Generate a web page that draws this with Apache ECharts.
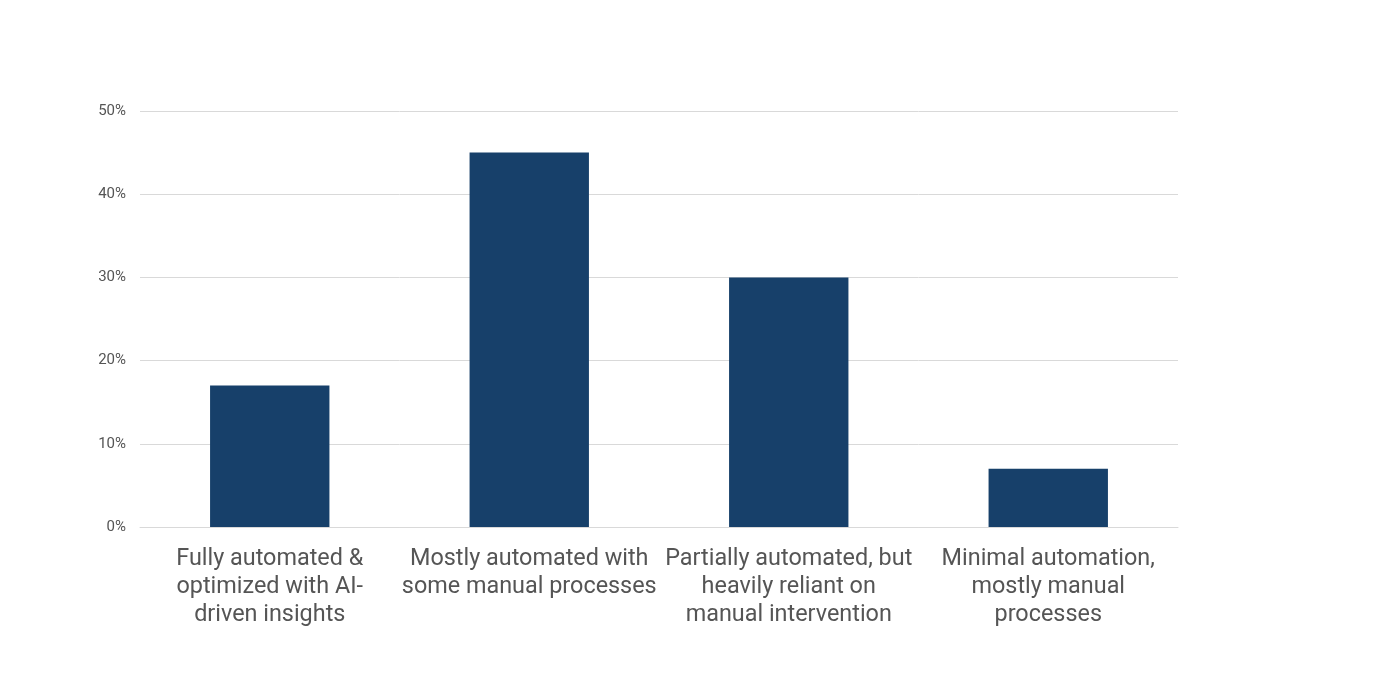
<!DOCTYPE html>
<html>
<head>
<meta charset="utf-8">
<script src="https://cdn.jsdelivr.net/npm/echarts@6/dist/echarts.min.js"></script>
<style>
  html, body { margin: 0; padding: 0; background: #fff; }
  #chart { width: 1379px; height: 674px; }
</style>
</head>
<body>
<div id="chart"></div>
<script>
const categories = [
    'Fully automated &\noptimized with AI-\ndriven insights',
    'Mostly automated with\nsome manual processes',
    'Partially automated, but\nheavily reliant on\nmanual intervention',
    'Minimal automation,\nmostly manual\nprocesses'
]
const shares = [17, 45, 30, 7]

const chart = echarts.init(document.getElementById('chart'))
const option = {
    animation: false,
    grid: {
        top: 111,
        left: 140,
        right: 201,
        bottom: 147
    },
    xAxis: {
        type: 'category',
        data: categories,
        axisLine: { lineStyle: { color: '#d9d9d9' } },
        axisTick: { show: false },
        axisLabel: {
            interval: 0,
            margin: 18,
            color: '#555',
            fontFamily: 'Roboto',
            fontSize: 23.4,
            lineHeight: 28
        }
    },
    yAxis: {
        type: 'value',
        min: 0,
        max: 50,
        interval: 10,
        axisLine: { show: false },
        axisTick: { show: false },
        axisLabel: {
            formatter: '{value}%',
            margin: 14,
            color: '#555',
            fontFamily: 'Roboto',
            fontSize: 15
        },
        splitLine: { lineStyle: { color: '#d9d9d9' } }
    },
    series: [{
        type: 'bar',
        data: shares,
        barWidth: '46%',
        itemStyle: { color: '#17406a' }
    }]
}
chart.setOption(option)
</script>
</body>
</html>
